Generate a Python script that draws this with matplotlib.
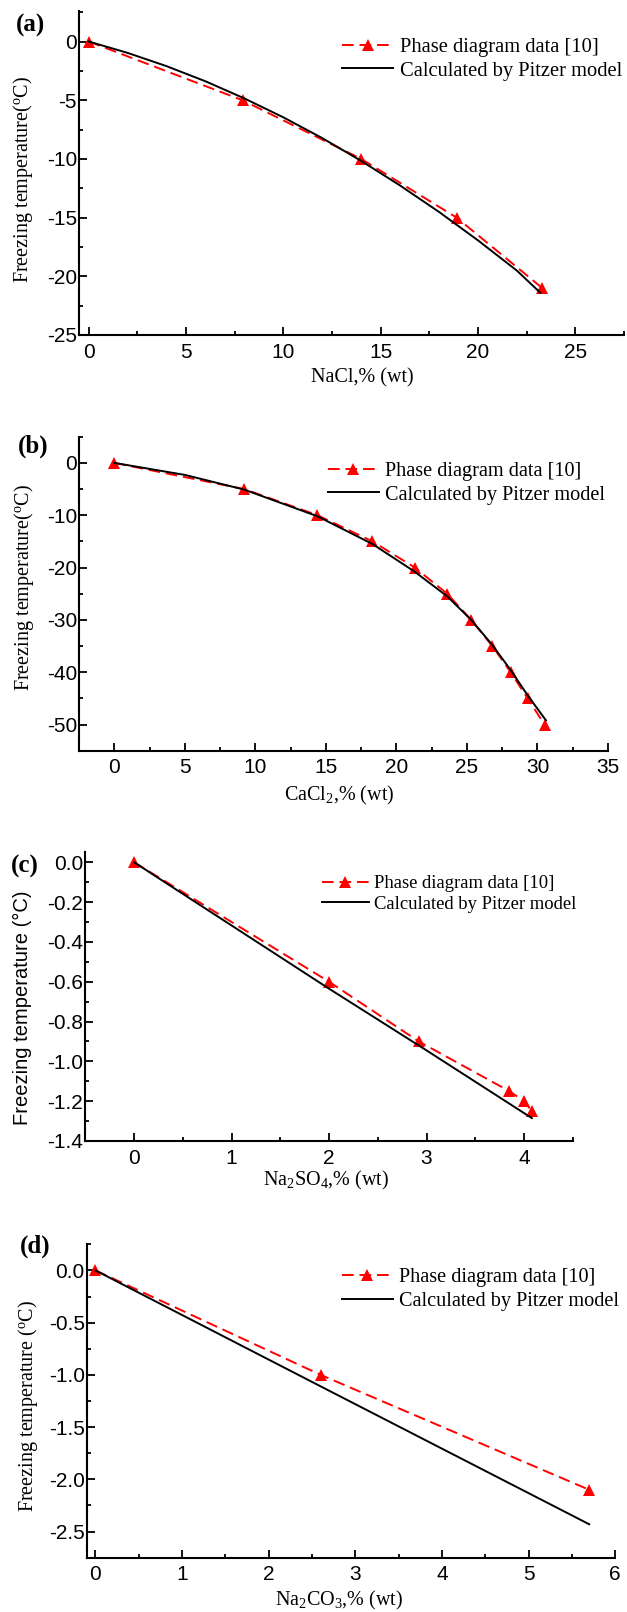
import matplotlib
matplotlib.use('Agg')
import matplotlib.pyplot as plt
from matplotlib.ticker import MultipleLocator, FormatStrFormatter

# ---------------- data ----------------
nacl_exp_x = [0, 7.9, 14.0, 18.9, 23.3]
nacl_exp_y = [0, -5, -10, -15, -21]
nacl_calc_x = [0, 2, 4, 6, 8, 10, 12, 14, 16, 18, 20, 22, 23.2]
nacl_calc_y = [0, -0.97, -2.10, -3.39, -4.85, -6.46, -8.23, -10.17, -12.27, -14.52, -16.94, -19.52, -21.4]

cacl2_exp_x = [0, 9.2, 14.4, 18.3, 21.3, 23.6, 25.3, 26.8, 28.1, 29.3, 30.5]
cacl2_exp_y = [0, -5, -10, -15, -20, -25, -30, -35, -40, -45, -50]
cacl2_calc_x = [0, 5, 9.2, 14.4, 18.3, 21.3, 23.6, 25.3, 26.8, 28.1, 29.3, 30.6]
cacl2_calc_y = [0, -2.3, -5.1, -10.2, -15.5, -20.8, -25.5, -30.0, -34.8, -39.6, -44.4, -49.2]

na2so4_exp_x = [0, 2.0, 2.92, 3.85, 4.0, 4.08]
na2so4_exp_y = [0, -0.6, -0.9, -1.15, -1.2, -1.25]
na2so4_calc_x = [0, 2.0, 3.0, 4.08]
na2so4_calc_y = [0, -0.635, -0.945, -1.285]

na2co3_exp_x = [0, 2.6, 5.7]
na2co3_exp_y = [0, -1.0, -2.1]
na2co3_calc_x = [0, 2.6, 5.7]
na2co3_calc_y = [0, -1.11, -2.43]

label_exp = 'Phase diagram data [10]'
label_calc = 'Calculated by Pitzer model'

# ---------------- style ----------------
plt.rcParams['font.family'] = ['Liberation Sans', 'DejaVu Sans']
plt.rcParams['axes.unicode_minus'] = False
plt.rcParams['mathtext.fontset'] = 'custom'
plt.rcParams['mathtext.rm'] = 'Liberation Serif'
plt.rcParams['mathtext.it'] = 'Liberation Serif:italic'
plt.rcParams['mathtext.bf'] = 'Liberation Serif:bold'

W, H = 627, 1612
fig = plt.figure(figsize=(W / 100, H / 100), dpi=100)
SERIF = 'Liberation Serif'
TICK_FS = 15
LAB_FS = 14.5


def px_axes(l, t, r, b):
    return fig.add_axes([l / W, 1 - b / H, (r - l) / W, (b - t) / H])


def style(ax, xlim, ylim, xmaj, xmin, ymaj, ymin, yfmt=None):
    ax.set_xlim(*xlim)
    ax.set_ylim(*ylim)
    ax.xaxis.set_major_locator(MultipleLocator(xmaj))
    ax.xaxis.set_minor_locator(MultipleLocator(xmin))
    ax.yaxis.set_major_locator(MultipleLocator(ymaj))
    ax.yaxis.set_minor_locator(MultipleLocator(ymin))
    if yfmt:
        ax.yaxis.set_major_formatter(FormatStrFormatter(yfmt))
    for s in ['top', 'right']:
        ax.spines[s].set_visible(False)
    for s in ['left', 'bottom']:
        ax.spines[s].set_linewidth(1.5)
    ax.tick_params(which='both', direction='in', width=1.3, labelsize=TICK_FS)
    ax.tick_params(which='major', length=5.5)
    ax.tick_params(which='minor', length=3)
    ax.tick_params(axis='y', pad=1.5)
    ax.tick_params(axis='x', pad=5.5)


def draw(ax, ex, ey, cx, cy, box, legpos, legsize, ylab, ylab_family, ylab_pos,
         xlab, xlab_pos, tag, tag_pos):
    l, t, r, b = box
    h1, = ax.plot(ex, ey, color='red', lw=1.4, dashes=(6, 3), marker='^',
                  markersize=9, markeredgewidth=0, zorder=2)
    h2, = ax.plot(cx, cy, color='black', lw=1.4, zorder=3)
    ax.legend([h1, h2], [label_exp, label_calc], loc='center left',
              bbox_to_anchor=(legpos[0] / W, 1 - legpos[1] / H),
              bbox_transform=fig.transFigure, frameon=False, borderpad=0,
              borderaxespad=0, handlelength=2.5, handletextpad=0.3,
              labelspacing=0.2, numpoints=1,
              prop={'family': SERIF, 'size': legsize})
    ax.set_ylabel(ylab, fontfamily=ylab_family, fontsize=LAB_FS, va='center')
    ax.yaxis.set_label_coords((ylab_pos[0] - l) / (r - l), (b - ylab_pos[1]) / (b - t))
    ax.set_xlabel(xlab, fontfamily=SERIF, fontsize=LAB_FS, va='center')
    ax.xaxis.set_label_coords((xlab_pos[0] - l) / (r - l), (b - xlab_pos[1]) / (b - t))
    fig.text(tag_pos[0] / W, 1 - tag_pos[1] / H, tag, ha='center', va='center',
             fontfamily=SERIF, fontweight='bold', fontsize=18)


ylab_serif = r'Freezing temperature($^{\mathrm{o}}$C)'

# (a)
box = (79, 11, 624, 335)
ax = px_axes(*box)
style(ax, (-0.5, 27.5), (-25, 2.6), 5, 2.5, 5, 2.5)
draw(ax, nacl_exp_x, nacl_exp_y, nacl_calc_x, nacl_calc_y, box, (342, 59.2), 14.8,
     ylab_serif, SERIF, (22.8, 179), 'NaCl,% (wt)', (362, 378), '(a)', (31, 25))

# (b)
box = (79, 436.7, 608, 750.7)
ax = px_axes(*box)
style(ax, (-2.5, 35), (-55, 5), 5, 2.5, 10, 5)
draw(ax, cacl2_exp_x, cacl2_exp_y, cacl2_calc_x, cacl2_calc_y, box, (328, 483.3), 14.6,
     ylab_serif, SERIF, (24, 587.5), r'CaCl$_{\mathrm{2}}$,% (wt)', (339, 795),
     '(b)', (32.7, 446.7))

# (c)
box = (85.3, 852.3, 572.8, 1141)
ax = px_axes(*box)
style(ax, (-0.5, 4.5), (-1.4, 0.05), 1, 0.5, 0.2, 0.1, '%.1f')
draw(ax, na2so4_exp_x, na2so4_exp_y, na2so4_calc_x, na2so4_calc_y, box, (322, 894), 13.4,
     'Freezing temperature (°C)', 'Liberation Sans', (22, 1008),
     r'Na$_{\mathrm{2}}$SO$_{\mathrm{4}}$,% (wt)', (326, 1180), '(c)', (25, 866.7))

# (d)
box = (86.8, 1244.3, 615.2, 1557.7)
ax = px_axes(*box)
style(ax, (-0.1, 6), (-2.75, 0.25), 1, 0.5, 0.5, 0.25, '%.1f')
draw(ax, na2co3_exp_x, na2co3_exp_y, na2co3_calc_x, na2co3_calc_y, box, (342, 1289.5), 14.6,
     r'Freezing temperature ($^{\mathrm{o}}$C)', SERIF, (28, 1405.8),
     r'Na$_{\mathrm{2}}$CO$_{\mathrm{3}}$,% (wt)', (339, 1600), '(d)', (35.6, 1245.8))

fig.savefig('out.png', dpi=100)
